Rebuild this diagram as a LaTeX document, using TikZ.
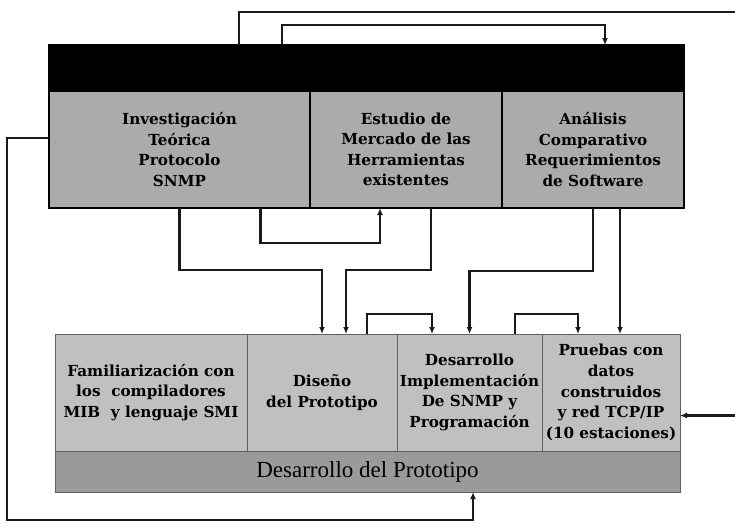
\documentclass[tikz,border=0pt]{standalone}
\usepackage{fontspec}
\setmainfont{DejaVu Serif}
\newfontfamily\bandfont{Liberation Serif}
\usepackage{tikz}
\usetikzlibrary{arrows.meta}

\definecolor{topgray}{HTML}{ABABAB}
\definecolor{lowgray}{HTML}{C0C0C0}
\definecolor{bandgray}{HTML}{9A9A9A}
\definecolor{ink}{HTML}{1A1A1A}

\tikzset{
  topcell/.style={draw=black, line width=2.8pt, fill=topgray, anchor=north west,
    minimum height=117pt, inner sep=0pt, outer sep=0pt, align=center,
    font=\fontsize{15.2}{20.5}\selectfont\bfseries},
  lowcell/.style={draw=gray!75!black, line width=0.5pt, fill=lowgray, anchor=north west,
    minimum height=117pt, inner sep=0pt, outer sep=0pt, align=center,
    font=\fontsize{15.2}{20.7}\selectfont\bfseries},
  flow/.style={draw=ink, line width=2.4pt, -{Latex[length=7pt,width=6pt]}}
}

\begin{document}
\begin{tikzpicture}[x=1pt,y=-1pt]
  \useasboundingbox[fill=white] (0,0) rectangle (735,523);

  % top block
  \node[topcell, minimum width=261pt] (inv) at (49,91)
    {Investigación\\Teórica\\Protocolo\\SNMP};
  \node[topcell, minimum width=192pt] (est) at (inv.north east)
    {Estudio de\\Mercado de las\\Herramientas\\existentes};
  \node[topcell, minimum width=182pt] (ana) at (est.north east)
    {Análisis\\Comparativo\\Requerimientos\\de Software};
  \node[fill=black, draw=black, line width=2.8pt, anchor=south west, inner sep=0pt,
    outer sep=0pt, minimum width=635pt, minimum height=46pt] (band) at (inv.north west) {};

  % lower block
  \node[lowcell, minimum width=192pt] (fam) at (55,334)
    {Familiarización con\\los\ \ compiladores\\MIB\ \ y lenguaje SMI};
  \node[lowcell, minimum width=150pt] (dis) at (fam.north east)
    {Diseño\\del Prototipo};
  \node[lowcell, minimum width=145pt] (des) at (dis.north east)
    {Desarrollo\\Implementación\\De SNMP y\\Programación};
  \node[lowcell, minimum width=138pt] (pru) at (des.north east)
    {Pruebas con\\datos\\construidos\\y red TCP/IP\\(10 estaciones)};
  \node[fill=bandgray, draw=gray!75!black, line width=0.5pt, anchor=north west, inner sep=0pt,
    outer sep=0pt, minimum width=625pt, minimum height=41pt,
    font=\bandfont\fontsize{23}{25}\selectfont] (proto) at (fam.south west) {Desarrollo del Prototipo};

  \coordinate (rtop) at (745,12);

  % connectors
  \draw[flow] (inv.south) -- ++(0,62) -| (dis.north);
  \draw[flow] ([xshift=81pt]inv.south) -- ++(0,35) -| ([xshift=-26pt]est.south);
  \draw[flow] ([xshift=25pt]est.south) -- ++(0,62) -| ([xshift=24pt]dis.north);
  \draw[flow] (ana.south) -- ++(0,63) -| (des.north);
  \draw[flow] ([xshift=27pt]ana.south) -- ([xshift=27pt]ana.south |- pru.north);

  \draw[flow] ([xshift=45pt]dis.north) -- ++(0,-20) -| ([xshift=-37.5pt]des.north);
  \draw[flow] ([xshift=45.5pt]des.north) -- ++(0,-20) -| ([xshift=-33pt]pru.north);

  \draw[flow] ([xshift=-127.5pt]band.north) |- (rtop) |- ([yshift=-23pt]pru.east);
  \draw[flow] ([xshift=-84.5pt]band.north) -- ++(0,-20) -| ([xshift=238.5pt]band.north);
  \draw[flow] ([yshift=11.5pt]inv.west) -- ++(-42,0) |- (7,520) -| ([xshift=105.5pt]proto.south);

\end{tikzpicture}
\end{document}
